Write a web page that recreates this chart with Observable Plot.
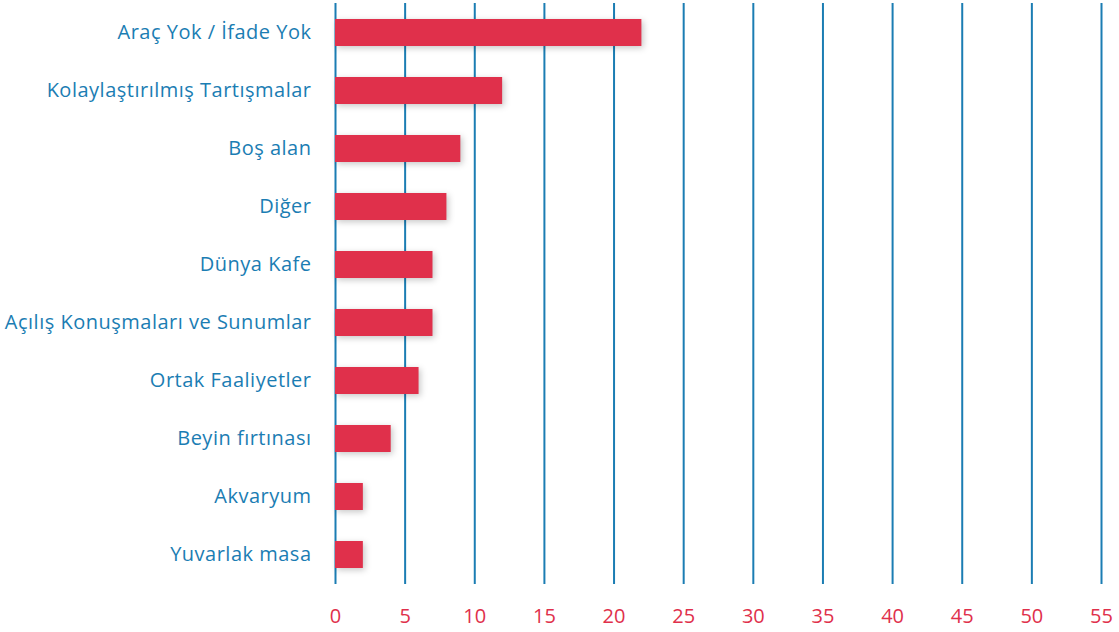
<!DOCTYPE html>
<html>
<head>
<meta charset="utf-8">
<script src="https://cdn.jsdelivr.net/npm/d3@7"></script>
<script src="https://cdn.jsdelivr.net/npm/@observablehq/plot@0.6"></script>
<style>
  html, body { margin: 0; padding: 0; background: #fff; }
  #chart svg g[aria-label="bar"] { filter: drop-shadow(2px 2px 3px rgba(0,0,0,0.22)); }
  #chart svg g[aria-label="y-axis tick label"] text { letter-spacing: 0.5px; }
</style>
</head>
<body>
<div id="chart"></div>
<script>
const categories = [
  "Araç Yok / İfade Yok",
  "Kolaylaştırılmış Tartışmalar",
  "Boş alan",
  "Diğer",
  "Dünya Kafe",
  "Açılış Konuşmaları ve Sunumlar",
  "Ortak Faaliyetler",
  "Beyin fırtınası",
  "Akvaryum",
  "Yuvarlak masa"
];
const values = [22, 12, 9, 8, 7, 7, 6, 4, 2, 2];
const xTicks = [0, 5, 10, 15, 20, 25, 30, 35, 40, 45, 50, 55];

const data = categories.map((c, i) => ({category: c, value: values[i]}));

const blue = "#1b7db3";
const red = "#e0304b";

const chart = Plot.plot({
  width: 1119,
  height: 632,
  marginLeft: 335,
  marginRight: 18,
  marginTop: 3,
  marginBottom: 48,
  style: {fontFamily: "'Open Sans', sans-serif", fontSize: "20px", background: "#fff"},
  x: {domain: [0, 55], ticks: xTicks, label: null},
  y: {domain: categories, label: null, paddingInner: 0.54, paddingOuter: 0.27},
  marks: [
    Plot.gridX(xTicks, {stroke: blue, strokeOpacity: 1, strokeWidth: 2}),
    Plot.barX(data, {x: "value", y: "category", fill: red}),
    Plot.axisX({ticks: xTicks, tickSize: 0, tickPadding: 24, color: red, fontSize: 20, label: null}),
    Plot.axisY({tickSize: 0, tickPadding: 24, color: blue, fontSize: 20, label: null})
  ]
});
document.getElementById("chart").appendChild(chart);
</script>
</body>
</html>
